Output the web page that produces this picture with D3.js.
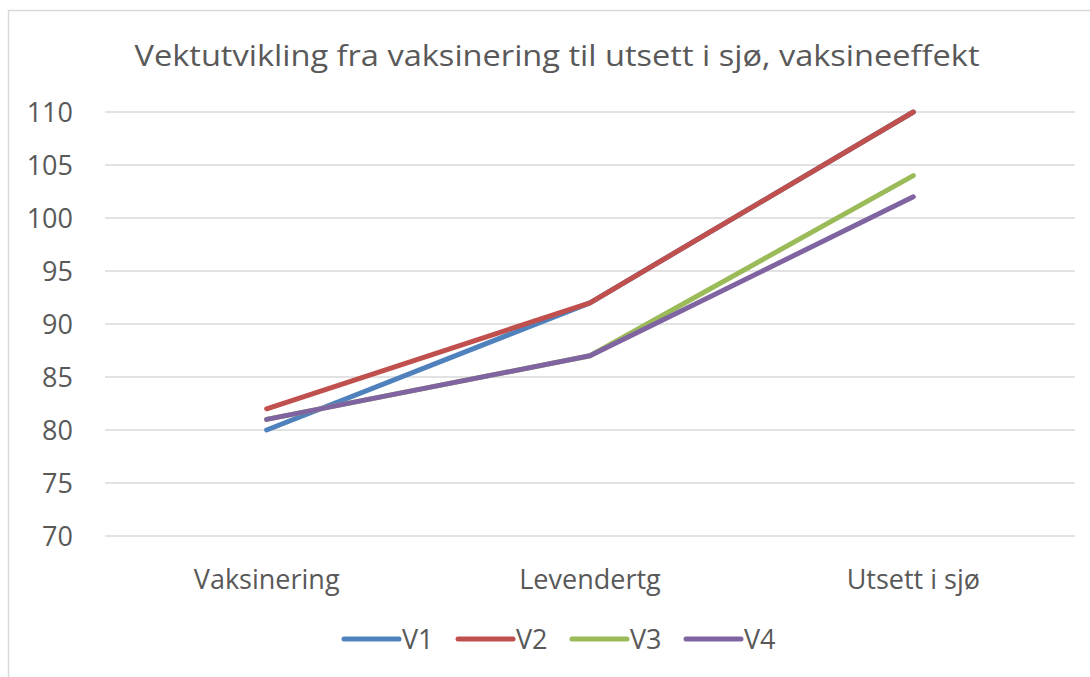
<!DOCTYPE html>
<html>
<head>
<meta charset="utf-8">
<script src="https://cdn.jsdelivr.net/npm/d3@7"></script>
<style>
  body { margin: 0; background: #fff; }
  text { font-family: "Open Sans", "Noto Sans", sans-serif; fill: #595959; }
</style>
</head>
<body>
<svg id="chart" width="1090" height="677"></svg>
<script>
// data
var categories = ["Vaksinering", "Levendertg", "Utsett i sjø"]
var seriesNames = ["V1", "V2", "V3", "V4"]
var seriesColors = ["#4F81BD", "#C0504D", "#9BBB59", "#8064A2"]
var v1 = [80, 92, 110]
var v2 = [82, 92, 110]
var v3 = [81, 87, 104]
var v4 = [81, 87, 102]
var yTicks = [70, 75, 80, 85, 90, 95, 100, 105, 110]
var title = "Vektutvikling fra vaksinering til utsett i sjø, vaksineeffekt"

var allValues = [v1, v2, v3, v4]

var svg = d3.select("#chart")

// chart area border (only top and left visible in the reference)
svg.append("rect")
    .attr("x", 8.5)
    .attr("y", 10.5)
    .attr("width", 1100)
    .attr("height", 700)
    .attr("fill", "none")
    .attr("stroke", "#d9d9d9")
    .attr("stroke-width", 1.5)

var margin = {left: 105, right: 1075, top: 112, bottom: 536}

var x = d3.scaleBand()
    .domain(categories)
    .range([margin.left, margin.right])

var y = d3.scaleLinear()
    .domain([70, 110])
    .range([margin.bottom, margin.top])

svg.append("text")
    .attr("x", 557)
    .attr("y", 66)
    .attr("text-anchor", "middle")
    .style("font-size", "29px")
    .attr("textLength", 845)
    .attr("lengthAdjust", "spacingAndGlyphs")
    .text(title)

// gridlines
svg.append("g").selectAll("line")
    .data(yTicks)
    .enter().append("line")
    .attr("x1", margin.left)
    .attr("x2", margin.right)
    .attr("y1", d => y(d))
    .attr("y2", d => y(d))
    .attr("stroke", "#d9d9d9")
    .attr("stroke-width", 1.5)

// y labels
svg.append("g").selectAll("text")
    .data(yTicks)
    .enter().append("text")
    .attr("x", 73)
    .attr("y", d => y(d))
    .attr("dy", "0.36em")
    .attr("text-anchor", "end")
    .style("font-size", "27px")
    .text(d => d)

// x labels
svg.append("g").selectAll("text")
    .data(categories)
    .enter().append("text")
    .attr("x", d => x(d) + x.bandwidth() / 2)
    .attr("y", 589)
    .attr("text-anchor", "middle")
    .style("font-size", "27px")
    .text(d => d)

var line = d3.line()
    .x((d, i) => x(categories[i]) + x.bandwidth() / 2)
    .y(d => y(d))

svg.append("g").selectAll("path")
    .data(allValues)
    .enter().append("path")
    .attr("d", d => line(d))
    .attr("fill", "none")
    .attr("stroke", (d, i) => seriesColors[i])
    .attr("stroke-width", 5)
    .attr("stroke-linecap", "round")
    .attr("stroke-linejoin", "round")

// legend
var legend = svg.append("g").selectAll("g")
    .data(seriesNames)
    .enter().append("g")
    .attr("transform", (d, i) => "translate(" + (344 + i * 114) + ",639)")

legend.append("line")
    .attr("x1", 0)
    .attr("x2", 55)
    .attr("stroke", (d, i) => seriesColors[i])
    .attr("stroke-width", 5)
    .attr("stroke-linecap", "round")

legend.append("text")
    .attr("x", 58)
    .attr("dy", "0.36em")
    .style("font-size", "27px")
    .text(d => d)
</script>
</body>
</html>
